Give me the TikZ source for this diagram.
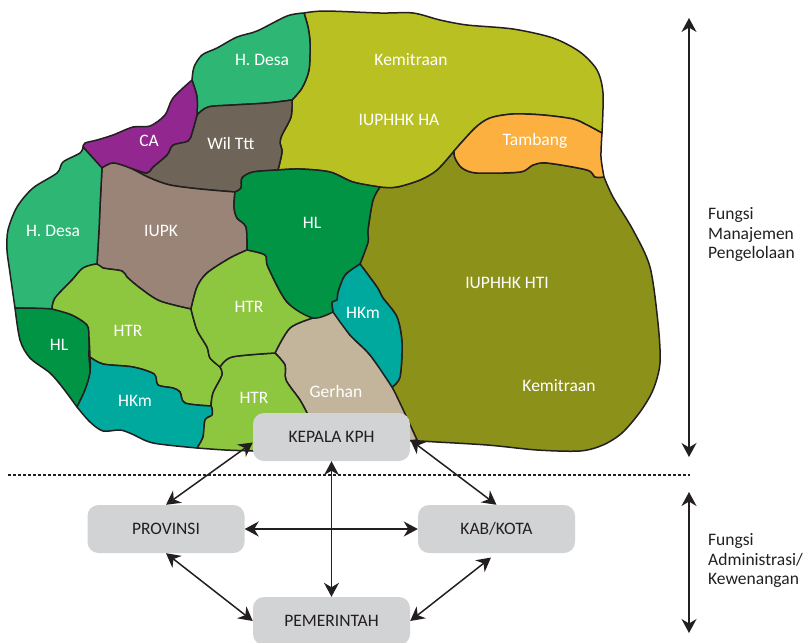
\documentclass[tikz,border=0pt]{standalone}
\usepackage{fontspec}
\setmainfont{Carlito}
\usetikzlibrary{arrows.meta}
\definecolor{cdesa}{HTML}{2DB674}
\definecolor{cca}{HTML}{92278F}
\definecolor{cwil}{HTML}{6E6457}
\definecolor{ciupk}{HTML}{9A8478}
\definecolor{chl}{HTML}{009444}
\definecolor{chtr}{HTML}{8DC63F}
\definecolor{chkm}{HTML}{00A99D}
\definecolor{cger}{HTML}{C2B59B}
\definecolor{cha}{HTML}{B9C022}
\definecolor{ctam}{HTML}{FBB040}
\definecolor{chti}{HTML}{8C9119}
\definecolor{cbox}{HTML}{D1D3D4}
\definecolor{cline}{HTML}{231F20}
\tikzset{
  sm/.style={smooth,tension=.5},
  region/.style={draw=cline,line width=1.5pt,line join=round},
  lab/.style={text=white,inner sep=0pt,font=\fontsize{17.5}{20}\selectfont},
  boxn/.style={fill=cbox,rounded corners=11pt,minimum width=157pt,minimum height=48pt,inner sep=0pt,text=cline,font=\fontsize{17.5}{20}\selectfont},
  dbl/.style={cline,line width=1.5pt,{Stealth[length=14pt,width=15pt,inset=4.5pt]}-{Stealth[length=14pt,width=15pt,inset=4.5pt]}},
  side/.style={text=cline,inner sep=0pt,anchor=west,align=left,font=\fontsize{17.5}{19.5}\selectfont}
}
\begin{document}
\begin{tikzpicture}[x=1pt,y=-1pt]
\useasboundingbox (0,0) rectangle (804,643);
% IUPHHK HTI
\path[region,fill=chti] plot[sm] coordinates {(380,187) (397,187) (420,180) (437,170) (454,151)}
 -- plot[sm] coordinates {(454,151) (455,158) (462,168) (477,173) (520,172) (533,165) (547,163) (587,170) (595,177) (604,177)}
 -- plot[sm] coordinates {(604,177) (613,197) (633,230) (650,267) (658,323) (660,363) (653,390) (640,412) (622,433) (603,445) (580,451) (537,450) (487,445) (420,441) (417,440)}
 -- plot[sm] coordinates {(417,440) (392,387)}
 -- plot[sm] coordinates {(392,387) (400,377) (402,343) (397,317) (383,298) (377,287) (360,264)}
 -- plot[sm] coordinates {(360,264) (368,242) (368,230) (373,200) (380,187)} -- cycle;
% IUPHHK HA
\path[region,fill=cha] plot[sm] coordinates {(304,13) (325,11) (380,13) (413,13) (440,20) (467,25) (513,29) (553,38) (580,52) (597,70) (603,93) (602,133)}
 -- plot[sm] coordinates {(602,133) (587,125) (573,119) (543,115) (513,114) (490,118) (475,128) (454,151)}
 -- plot[sm] coordinates {(454,151) (437,170) (420,180) (397,187) (380,187) (353,182) (330,172) (300,169) (278,170)}
 -- plot[sm] coordinates {(278,170) (282,152) (280,143) (282,135) (291,117) (292,100)}
 -- plot[sm] coordinates {(292,100) (302,88) (309,70) (310,43) (308,27) (304,13)} -- cycle;
% Tambang
\path[region,fill=ctam] plot[sm] coordinates {(454,151) (475,128) (490,118) (513,114) (543,115) (573,119) (587,125) (602,133)}
 -- plot[sm] coordinates {(602,133) (601,157) (604,177)}
 -- plot[sm] coordinates {(604,177) (595,177) (587,170) (547,163) (533,165) (520,172) (477,173) (462,168) (455,158) (454,151)} -- cycle;
% H. Desa upper
\path[region,fill=cdesa] plot[sm] coordinates {(304,13) (287,16) (257,31) (237,37) (217,48) (202,55) (194,67) (192,80)}
 -- plot[sm] coordinates {(192,80) (197,97) (197,115)}
 -- plot[sm] coordinates {(197,115) (208,107) (233,105) (267,103) (292,100)}
 -- plot[sm] coordinates {(292,100) (302,88) (309,70) (310,43) (308,27) (304,13)} -- cycle;
% Wil Ttt
\path[region,fill=cwil] plot[sm] coordinates {(197,115) (208,107) (233,105) (267,103) (292,100)}
 -- plot[sm] coordinates {(292,100) (291,117) (282,135) (280,143) (282,152) (278,170)}
 -- plot[sm] coordinates {(278,170) (253,172) (242,178) (241,188) (235,192)}
 -- plot[sm] coordinates {(235,192) (200,189) (170,185) (150,178) (130,168)}
 -- plot[sm] coordinates {(130,168) (147,173) (153,167) (167,155) (173,145) (188,141) (192,133) (197,115)} -- cycle;
% CA
\path[region,fill=cca] plot[sm] coordinates {(192,80) (173,98) (165,115) (150,126) (133,127) (113,135) (97,140) (85,143) (83,147)}
 -- plot[sm] coordinates {(83,147) (102,168)}
 -- plot[sm] coordinates {(102,168) (113,163) (130,168) (147,173) (153,167) (167,155) (173,145) (188,141) (192,133) (197,115)}
 -- plot[sm] coordinates {(197,115) (197,97) (192,80)} -- cycle;
% IUPK
\path[region,fill=ciupk] plot[sm] coordinates {(102,168) (113,163) (130,168) (150,178) (170,185) (200,189) (235,192)}
 -- plot[sm] coordinates {(235,192) (234,207) (237,218) (246,227) (247,250)}
 -- plot[sm] coordinates {(247,250) (230,258) (207,273) (197,287) (191,309)}
 -- plot[sm] coordinates {(191,309) (160,301) (140,288) (127,277) (122,271) (103,268) (97,264)}
 -- plot[sm] coordinates {(97,264) (99,230) (100,207) (102,168)} -- cycle;
% H. Desa left
\path[region,fill=cdesa] plot[sm] coordinates {(83,147) (80,153) (63,162) (57,173) (33,188) (17,207) (8,230) (7,250) (10,273) (15,308)}
 -- (52,309)
 -- plot[sm] coordinates {(52,309) (55,298) (72,280) (83,268) (97,264)}
 -- plot[sm] coordinates {(97,264) (99,230) (100,207) (102,168)} -- cycle;
% HL lower-left
\path[region,fill=chl] plot[sm] coordinates {(15,308) (52,309) (72,315) (87,325) (89,337) (89,357) (90,373) (85,390) (77,407)}
 -- plot[sm] coordinates {(77,407) (63,388) (50,373) (30,358) (20,340) (15,308)} -- cycle;
% HTR left
\path[region,fill=chtr] plot[sm] coordinates {(52,309) (55,298) (72,280) (83,268) (97,264) (103,268) (122,271) (127,277) (140,288) (160,301) (191,309)}
 -- plot[sm] coordinates {(191,309) (197,330) (207,347) (210,358) (220,367) (222,375) (213,393) (211,406)}
 -- plot[sm] coordinates {(211,406) (185,403) (180,392) (173,388) (158,385) (154,374) (133,367) (103,364) (90,357)}
 -- plot[sm] coordinates {(90,357) (89,337) (87,325) (72,315) (52,309)} -- cycle;
% HKm lower-left
\path[region,fill=chkm] plot[sm] coordinates {(90,357) (103,364) (133,367) (154,374) (158,385) (173,388) (180,392) (185,403) (211,406)}
 -- plot[sm] coordinates {(211,406) (212,408) (212,415) (205,420) (203,437) (197,448)}
 -- plot[sm] coordinates {(197,448) (153,443) (132,434) (120,430) (103,431) (90,422) (77,407)}
 -- plot[sm] coordinates {(77,407) (85,390) (90,373) (90,357)} -- cycle;
% Gerhan
\path[region,fill=cger] plot[sm] coordinates {(313,318) (333,312) (350,335) (370,355) (392,387) (417,440)}
 -- (330,451) -- (307,413)
 -- plot[sm] coordinates {(307,413) (300,400) (286,380) (285,365) (275,353)}
 -- plot[sm] coordinates {(275,353) (290,328) (313,318)} -- cycle;
% HTR bottom
\path[region,fill=chtr] plot[sm] coordinates {(220,367) (232,357) (275,353)}
 -- plot[sm] coordinates {(275,353) (285,365) (286,380) (300,400) (307,413)}
 -- (330,451) -- (253,451)
 -- plot[sm] coordinates {(253,451) (225,450) (197,448)}
 -- plot[sm] coordinates {(197,448) (203,437) (205,420) (212,415) (212,408) (211,406)}
 -- plot[sm] coordinates {(211,406) (213,393) (222,375) (220,367)} -- cycle;
% HTR middle
\path[region,fill=chtr] plot[sm] coordinates {(247,250) (265,255) (268,267) (287,302) (313,318)}
 -- plot[sm] coordinates {(313,318) (290,328) (275,353)}
 -- plot[sm] coordinates {(275,353) (232,357) (220,367)}
 -- plot[sm] coordinates {(220,367) (210,358) (207,347) (197,330) (191,309)}
 -- plot[sm] coordinates {(191,309) (197,287) (207,273) (230,258) (247,250)} -- cycle;
% HKm right
\path[region,fill=chkm] plot[sm] coordinates {(333,312) (332,302) (337,300) (338,292) (345,275) (360,264)}
 -- plot[sm] coordinates {(360,264) (377,287) (383,298) (397,317) (402,343) (400,377) (392,387)}
 -- plot[sm] coordinates {(392,387) (370,355) (350,335) (333,312)} -- cycle;
% HL centre
\path[region,fill=chl] plot[sm] coordinates {(278,170) (300,169) (330,172) (353,182) (380,187)}
 -- plot[sm] coordinates {(380,187) (373,200) (368,230) (368,242) (360,264)}
 -- plot[sm] coordinates {(360,264) (345,275) (338,292) (337,300) (332,302) (333,312)}
 -- plot[sm] coordinates {(333,312) (313,318) (287,302) (268,267) (265,255) (247,250)}
 -- plot[sm] coordinates {(247,250) (246,227) (237,218) (234,207) (235,192)}
 -- plot[sm] coordinates {(235,192) (241,188) (242,178) (253,172) (278,170)} -- cycle;
% labels
\node[lab] (l1) at (262,60) {H. Desa};
\node[lab] (l2) at (411,60) {Kemitraan};
\node[lab] (l3) at (399,120) {IUPHHK HA};
\node[lab] (l4) at (535,141) {Tambang};
\node[lab] (l5) at (149,141) {CA};
\node[lab] (l6) at (231,143) {Wil Ttt};
\node[lab] (l7) at (53,231) {H. Desa};
\node[lab] (l8) at (161,231) {IUPK};
\node[lab] (l9) at (312,223) {HL};
\node[lab] (l10) at (363,313) {HKm};
\node[lab] (l11) at (249,307) {HTR};
\node[lab] (l12) at (128,331) {HTR};
\node[lab] (l13) at (59,345) {HL};
\node[lab] (l14) at (254,398) {HTR};
\node[lab] (l15) at (336,391) {Gerhan};
\node[lab] (l16) at (135,401) {HKm};
\node[lab] (l17) at (507,283) {IUPHHK HTI};
\node[lab] (l18) at (559,386) {Kemitraan};
% boxes
\node[boxn] (kep) at (331.5,437) {KEPALA KPH};
\node[boxn] (prov) at (166,529) {PROVINSI};
\node[boxn] (kab) at (496.5,529) {KAB/KOTA};
\node[boxn] (pem) at (331.5,621) {PEMERINTAH};
% dotted line
\coordinate (dl) at (8,474.5);
\coordinate (dr) at (690,474.5);
\draw[cline,line width=2pt,dash pattern=on 2.5pt off 2.5pt] (dl) -- (dr);
% connectors
\draw[dbl] (kep.184) -- (prov.north);
\draw[dbl] (kep.358) -- (kab.north);
\draw[dbl] (kep.south) -- (pem.north);
\draw[dbl] (prov.east) -- (kab.west);
\draw[dbl] (prov.south) -- (pem.west);
\draw[dbl,shorten <=7pt] (kab.south) -- (pem.east);
% side arrows
\coordinate (a1) at (689,18);
\coordinate (a2) at (689,457);
\coordinate (a3) at (689,492);
\coordinate (a4) at (689,633);
\draw[dbl] (a1) -- (a2);
\draw[dbl] (a3) -- (a4);
\node[side] (s1) at (708,234.5) {Fungsi\\Manajemen\\Pengelolaan};
\node[side] (s2) at (708,560.5) {Fungsi\\Administrasi/\\Kewenangan};
\end{tikzpicture}
\end{document}
